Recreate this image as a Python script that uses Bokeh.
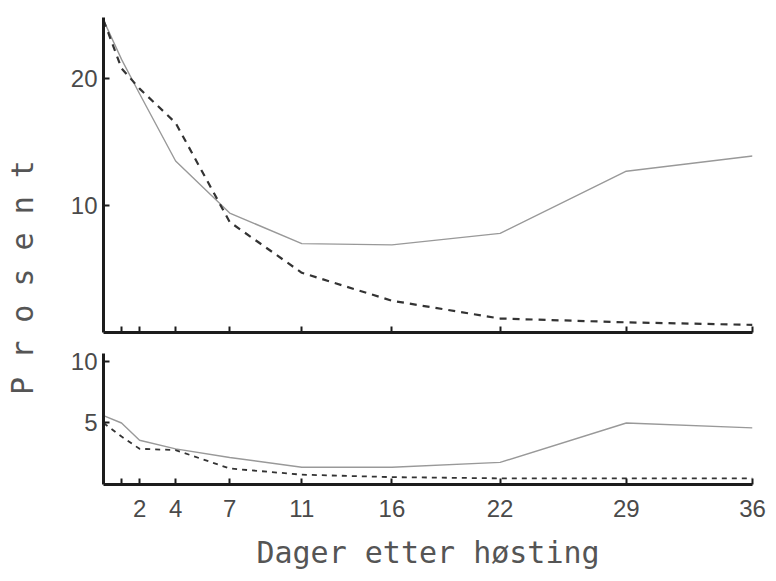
from math import pi
from bokeh.plotting import figure
from bokeh.layouts import row, column
from bokeh.models import Range1d, FixedTicker, Label
from bokeh.embed import file_html
from bokeh.resources import INLINE

# ---- data ----
days = [0, 1, 2, 4, 7, 11, 16, 22, 29, 36]
top_dashed = [24.6, 20.8, 19.2, 16.5, 8.7, 4.7, 2.5, 1.1, 0.8, 0.6]
top_solid = [24.6, 21.5, 18.8, 13.5, 9.4, 7.0, 6.9, 7.8, 12.7, 13.9]
bottom_dashed = [5.0, 3.9, 2.9, 2.8, 1.3, 0.8, 0.6, 0.5, 0.5, 0.5]
bottom_solid = [5.6, 5.0, 3.6, 2.9, 2.2, 1.4, 1.4, 1.8, 5.0, 4.6]

x_ticks = [1, 2, 4, 7, 11, 16, 22, 29, 36]
x_tick_labels = ["", "2", "4", "7", "11", "16", "22", "29", "36"]
top_y_ticks = [10, 20]
bottom_y_ticks = [5, 10]
y_label = "P r o s e n t"
x_label = "Dager etter høsting"

AXIS_COLOR = "#1c1c1c"
TEXT_COLOR = "#4a4a4a"
TICK_FONT = "Liberation Sans"
MONO_FONT = "DejaVu Sans Mono"


def style_panel(p, yticks, show_xlabels):
    p.xgrid.visible = False
    p.ygrid.visible = False
    p.outline_line_color = None
    for ax in (p.xaxis[0], p.yaxis[0]):
        ax.axis_line_width = 3
        ax.axis_line_color = AXIS_COLOR
        ax.major_tick_line_color = AXIS_COLOR
        ax.major_tick_line_width = 2
        ax.major_tick_in = 6
        ax.major_tick_out = 0
        ax.minor_tick_line_color = None
        ax.major_label_text_font = TICK_FONT
        ax.major_label_text_font_size = "24px"
        ax.major_label_text_color = TEXT_COLOR
    p.xaxis.ticker = FixedTicker(ticks=x_ticks)
    p.yaxis.ticker = FixedTicker(ticks=yticks)
    p.yaxis.major_label_standoff = 6
    if show_xlabels:
        p.xaxis.major_label_overrides = {t: s for t, s in zip(x_ticks, x_tick_labels)}
    else:
        p.xaxis.major_label_overrides = {t: "" for t in x_ticks}
        p.xaxis.major_label_standoff = 0


top = figure(frame_width=649, frame_height=315, output_backend="svg",
             toolbar_location=None, x_range=Range1d(0, 36), y_range=Range1d(0, 24.8),
             min_border_left=50, min_border_right=15, min_border_top=17,
             min_border_bottom=10, background_fill_color="white")
style_panel(top, top_y_ticks, False)
top.line(days, top_solid, line_color="#999999", line_width=1.4)
top.line(days, top_dashed, line_color="#333333", line_width=2.2, line_dash="7 6")

bottom = figure(frame_width=649, frame_height=131, output_backend="svg",
                toolbar_location=None, x_range=Range1d(0, 36), y_range=Range1d(0, 10.65),
                min_border_left=50, min_border_right=15, min_border_top=11,
                min_border_bottom=60, background_fill_color="white")
style_panel(bottom, bottom_y_ticks, True)
bottom.xaxis.major_label_standoff = 15
bottom.xaxis.axis_label = x_label
bottom.xaxis.axis_label_text_font = MONO_FONT
bottom.xaxis.axis_label_text_font_size = "30px"
bottom.xaxis.axis_label_text_font_style = "normal"
bottom.xaxis.axis_label_text_color = "#555555"
bottom.xaxis.axis_label_standoff = 15
bottom.line(days, bottom_solid, line_color="#999999", line_width=1.4)
bottom.line(days, bottom_dashed, line_color="#333333", line_width=1.8, line_dash="5 5")

H = 570
lab = figure(frame_width=53, frame_height=H, output_backend="svg", toolbar_location=None,
             x_range=Range1d(0, 53), y_range=Range1d(0, H), x_axis_type=None,
             y_axis_type=None, min_border=0)
lab.outline_line_color = None
lab.xgrid.visible = False
lab.ygrid.visible = False
lab.add_layout(Label(x=22, y=H - 277, text=y_label, angle=pi / 2,
                     text_align="center", text_baseline="middle",
                     text_font=MONO_FONT, text_font_size="30px",
                     text_color="#555555"))

layout = row(lab, column(top, bottom))

with open("out.html", "w") as f:
    f.write(file_html(layout, INLINE))
